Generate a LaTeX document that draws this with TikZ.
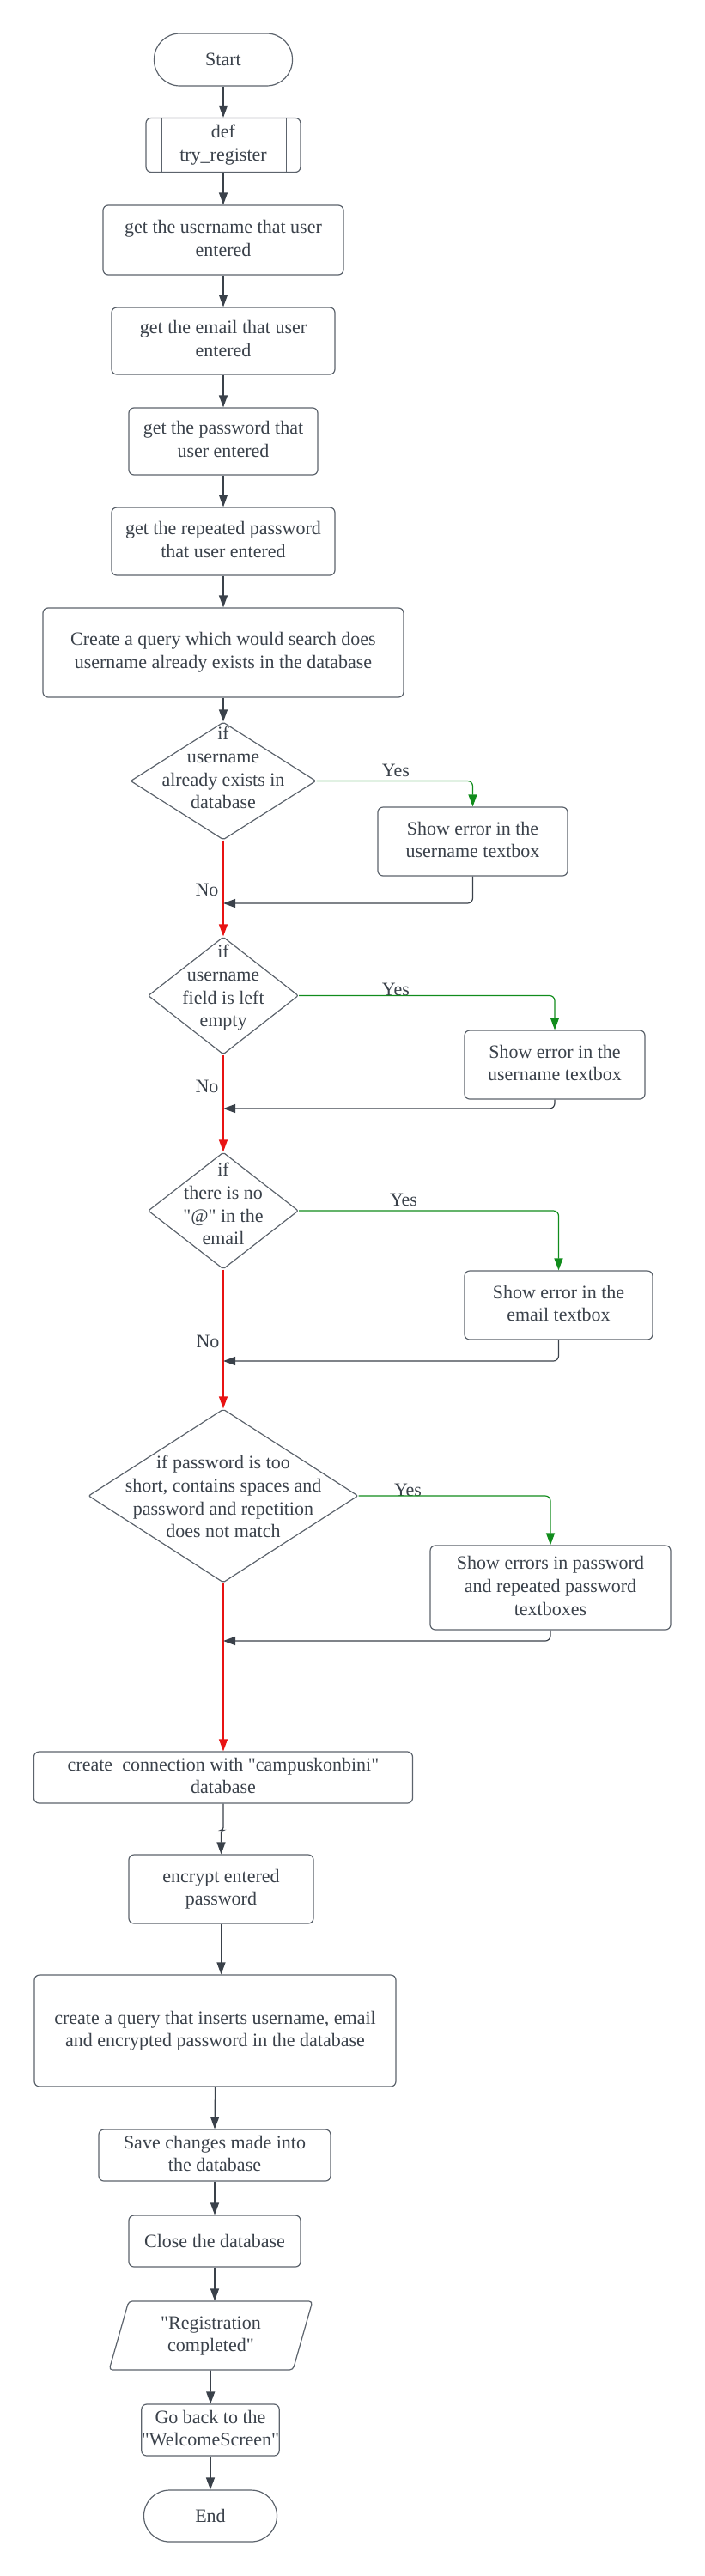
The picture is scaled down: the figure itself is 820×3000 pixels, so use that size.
\documentclass[tikz,border=0pt]{standalone}
\usepackage{fontspec}
\setmainfont{Liberation Serif}[Ligatures=TeXOff]
\usepackage{tikz}
\usetikzlibrary{shapes.geometric, arrows.meta}
\usepackage{xcolor}
\definecolor{ink}{HTML}{3A414A}
\definecolor{edge}{HTML}{5C636C}
\definecolor{noRed}{HTML}{E81313}
\definecolor{yesGreen}{HTML}{118C1C}
\setlength{\tabcolsep}{0pt}
% text of a diamond, kept out of the shape size
\newcommand{\condtext}[2]{\makebox[0pt]{\raisebox{#1}[0pt][0pt]{\begin{tabular}{c}#2\end{tabular}}}}

\tikzset{
  base/.style={draw=edge, line width=1.2pt, text=ink, font=\fontsize{22pt}{26.7pt}\selectfont, inner sep=2pt},
  terminal/.style={base, rectangle, rounded corners=30pt},
  process/.style={base, rectangle, rounded corners=6pt},
  decision/.style={base, diamond, inner sep=0pt, rounded corners=2pt},
  io/.style={base, trapezium, trapezium left angle=76, trapezium right angle=104, trapezium stretches=true, rounded corners=4pt},
  label/.style={text=ink, font=\fontsize{22pt}{26.7pt}\selectfont, inner sep=0pt},
  flow/.style={draw=ink, line width=1.2pt, -{Triangle[length=14pt, width=10pt]}},
  backline/.style={flow, rounded corners=6pt},
  noline/.style={flow, draw=noRed},
  yesline/.style={flow, draw=yesGreen, rounded corners=6pt}
}

\begin{document}
\begin{tikzpicture}[x=1pt, y=-1pt]
      \useasboundingbox (0, 0) rectangle (820, 3000);

      \node (start) [terminal, minimum width=161pt, minimum height=61pt] at (260, 69.5) {Start};
      \node (def) [process, minimum width=180pt, minimum height=63pt] at (260, 169) {
        \begin{tabular}{c}
          def \\
          try\_register
        \end{tabular}
      };
      \draw[base] ([xshift=18.5pt]def.north west) -- ([xshift=18.5pt]def.south west);
      \draw[base] ([xshift=-17pt]def.north east) -- ([xshift=-17pt]def.south east);

      \node (user) [process, minimum width=280pt, minimum height=81pt] at (260, 279.5) {
        \begin{tabular}{c}
          get the username that user \\
          entered
        \end{tabular}
      };
      \node (email) [process, minimum width=260pt, minimum height=78pt] at (260, 397) {
        \begin{tabular}{c}
          get the email that user \\
          entered
        \end{tabular}
      };
      \node (pass) [process, minimum width=220pt, minimum height=78pt] at (260, 514) {
        \begin{tabular}{c}
          get the password that \\
          user entered
        \end{tabular}
      };
      \node (rep) [process, minimum width=260pt, minimum height=79pt] at (260, 630.5) {
        \begin{tabular}{c}
          get the repeated password \\
          that user entered
        \end{tabular}
      };
      \node (query) [process, minimum width=420pt, minimum height=104pt] at (260, 760) {
        \begin{tabular}{c}
          Create a query which would search does \\
          username already exists in the database
        \end{tabular}
      };

      % checks of the entered data
      \node (d1) [decision, minimum width=216pt, minimum height=137pt] at (260, 909.5) {
        \condtext{8pt}{if \\ username \\ already exists in \\ database}
      };
      \node (box1) [process, minimum width=221pt, minimum height=80pt] at (550.5, 980) {
        \begin{tabular}{c}
          Show error in the \\
          username textbox
        \end{tabular}
      };
      \node (d2) [decision, minimum width=175pt, minimum height=137pt] at (260, 1159.5) {
        \condtext{4pt}{if \\ username \\ field is left \\ empty}
      };
      \node (box2) [process, minimum width=210pt, minimum height=80pt] at (646, 1240) {
        \begin{tabular}{c}
          Show error in the \\
          username textbox
        \end{tabular}
      };
      \node (d3) [decision, minimum width=175pt, minimum height=136pt] at (260, 1410) {
        \condtext{0.5pt}{if \\ there is no \\ "@" in the \\ email}
      };
      \node (box3) [process, minimum width=219pt, minimum height=80pt] at (650.5, 1520) {
        \begin{tabular}{c}
          Show error in the \\
          email textbox
        \end{tabular}
      };
      \node (d4) [decision, minimum width=314pt, minimum height=202pt] at (260, 1742) {
        \condtext{-8.5pt}{if password is too \\ short, contains spaces and \\ password and repetition \\ does not match}
      };
      \node (box4) [process, minimum width=280pt, minimum height=98pt] at (641, 1849) {
        \begin{tabular}{c}
          Show errors in password \\
          and repeated password \\
          textboxes
        \end{tabular}
      };

      \coordinate (j1) at (260, 1052);
      \coordinate (j2) at (260, 1291);
      \coordinate (j3) at (260, 1585);
      \coordinate (j4) at (260, 1911);

      \node (yes1) [label] at (461, 897.5) {Yes};
      \node (yes2) [label] at (461, 1152) {Yes};
      \node (yes3) [label] at (470, 1397.5) {Yes};
      \node (yes4) [label] at (475, 1735) {Yes};
      \node (no1) [label] at (241, 1036) {No};
      \node (no2) [label] at (241, 1265) {No};
      \node (no3) [label] at (242, 1562) {No};

      % saving the new user
      \node (conn) [process, minimum width=441pt, minimum height=60pt] at (260, 2070) {
        \begin{tabular}{c}
          create\ \ connection with "campuskonbini" \\
          database
        \end{tabular}
      };
      \node (enc) [process, minimum width=215pt, minimum height=80pt] at (257.5, 2200) {
        \begin{tabular}{c}
          encrypt entered \\
          password
        \end{tabular}
      };
      \node (ins) [process, minimum width=421pt, minimum height=130pt] at (250.5, 2365) {
        \begin{tabular}{c}
          create a query that inserts username, email \\
          and encrypted password in the database
        \end{tabular}
      };
      \node (save) [process, minimum width=270pt, minimum height=60pt] at (250, 2510) {
        \begin{tabular}{c}
          Save changes made into \\
          the database
        \end{tabular}
      };
      \node (close) [process, minimum width=200pt, minimum height=60pt] at (250, 2610) {Close the database};
      \node (para) [io, minimum width=237pt, minimum height=80pt] at (245.5, 2720) {
        \begin{tabular}{c}
          "Registration \\
          completed"
        \end{tabular}
      };
      \node (gob) [process, inner sep=0pt, minimum width=160pt, minimum height=60pt] at (245, 2830) {
        \begin{tabular}{c}
          Go back to the \\
          "WelcomeScreen"
        \end{tabular}
      };
      \node (stop) [terminal, minimum width=155pt, minimum height=60pt] at (245, 2930) {End};

      \draw[flow] (start) -- (def);
      \draw[flow] (def) -- (user);
      \draw[flow] (user) -- (email);
      \draw[flow] (email) -- (pass);
      \draw[flow] (pass) -- (rep);
      \draw[flow] (rep) -- (query);
      \draw[flow] (query) -- (d1);

      \draw[yesline] (d1.east) -| (box1.north);
      \draw[yesline] (d2.east) -| (box2.north);
      \draw[yesline] (d3.east) -| (box3.north);
      \draw[yesline] (d4.east) -| (box4.north);

      \draw[noline] (d1.south) -- (d2.north);
      \draw[noline] (d2.south) -- (d3.north);
      \draw[noline] (d3.south) -- (d4.north);
      \draw[noline] (d4.south) -- (conn.north);

      \draw[backline] (box1.south) |- (j1);
      \draw[backline] (box2.south) |- (j2);
      \draw[backline] (box3.south) |- (j3);
      \draw[backline] (box4.south) |- (j4);

      \draw[flow, rounded corners=3pt] (conn.south) |- ([yshift=28pt]enc.north) -- (enc.north);
      \draw[flow] (enc.south) -- (enc.south |- ins.north);
      \draw[flow] (ins.south) -- (save.north);
      \draw[flow] (save) -- (close);
      \draw[flow] (close.south) -- (close.south |- para.north);
      \draw[flow] (para) -- (gob);
      \draw[flow] (gob) -- (stop);
    \end{tikzpicture}
\end{document}
